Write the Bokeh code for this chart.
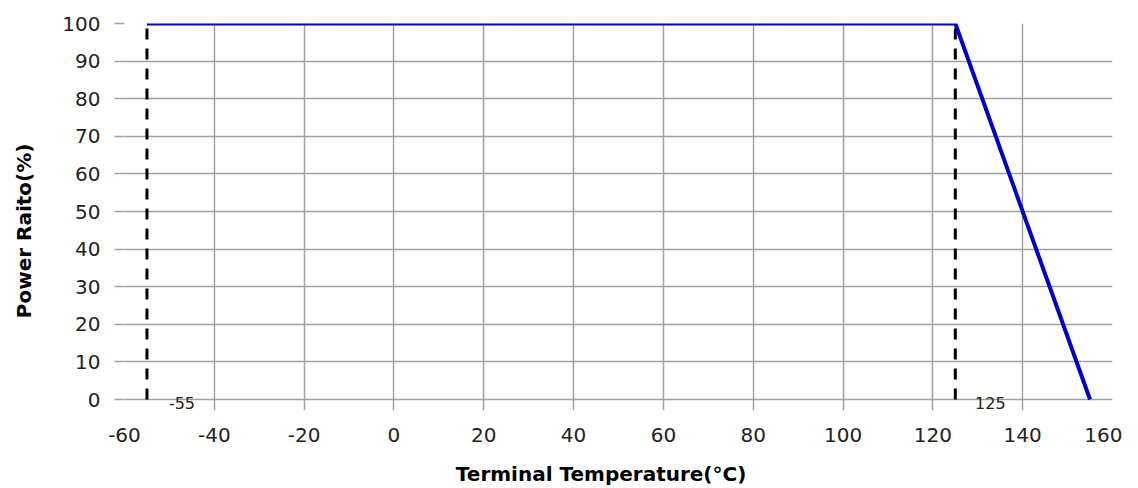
from bokeh.plotting import figure
from bokeh.models import Range1d, FixedTicker, ColumnDataSource, LabelSet
from bokeh.core.properties import value
from bokeh.embed import file_html
from bokeh.resources import INLINE

# Data
temperature = [-55, 125, 155]
power_ratio = [100, 100, 0]
marker_temps = [-55, 125]
marker_labels = ["-55", "125"]
x_ticks = list(range(-60, 161, 20))
y_ticks = list(range(0, 101, 10))

FONT = "DejaVu Sans"
GRID = "#a0a0a0"
NB = "\u00a0"

# frame extends slightly below 0 so the marker labels straddling the axis are not clipped
p = figure(width=1122, height=488, output_backend="svg", toolbar_location=None,
           x_range=Range1d(-60, 160), y_range=Range1d(-2.92, 100),
           min_border_left=124, min_border_right=10, min_border_top=23,
           min_border_bottom=77)

p.background_fill_color = "white"
p.border_fill_color = "white"
p.outline_line_color = None

for ax in (p.xaxis[0], p.yaxis[0]):
    ax.axis_line_color = None
    ax.major_tick_line_color = GRID
    ax.major_tick_line_width = 1.5
    ax.minor_tick_line_color = None
    ax.major_label_text_font = FONT
    ax.major_label_text_font_size = "20px"
    ax.major_label_text_color = "#222222"
    ax.axis_label_text_font = FONT
    ax.axis_label_text_font_size = "20px"
    ax.axis_label_text_font_style = "bold"
    ax.axis_label_text_color = "black"

p.yaxis.major_tick_in = 0
p.yaxis.major_tick_out = 10
p.xaxis.major_tick_in = 0
p.xaxis.major_tick_out = 0

p.xaxis.ticker = FixedTicker(ticks=x_ticks)
p.yaxis.ticker = FixedTicker(ticks=y_ticks)
p.xaxis.major_label_overrides = {t: str(t) for t in x_ticks}
p.yaxis.major_label_overrides = {t: str(t) for t in y_ticks}
p.xaxis.axis_label = "Terminal Temperature(°C)" + NB * 5
p.yaxis.axis_label = "Power Raito(%)" + NB * 4
p.xaxis.major_label_standoff = 17
p.yaxis.major_label_standoff = 14
p.xaxis.axis_label_standoff = 17
p.yaxis.axis_label_standoff = 23

p.xgrid.ticker = FixedTicker(ticks=x_ticks)
p.ygrid.ticker = FixedTicker(ticks=y_ticks)
p.grid.grid_line_color = GRID
p.grid.grid_line_width = 1.5

# Dashed marker lines
ms = ColumnDataSource(dict(x=marker_temps,
                           y0=[min(power_ratio)] * len(marker_temps),
                           y1=[max(power_ratio)] * len(marker_temps),
                           label=marker_labels))
p.segment(x0="x", y0="y0", x1="x", y1="y1", source=ms,
          line_color="black", line_width=3, line_dash="11 9")

# Derating curve
p.line(temperature, power_ratio, line_color="#0000cc", line_width=4)

# Labels
labels = LabelSet(x="x", y="y0", text="label", source=ms, x_offset=35, y_offset=-3,
                  text_font=value(FONT), text_font_size=value("16px"),
                  text_color=value("#222222"),
                  text_align="center", text_baseline="middle")
p.add_layout(labels)

open("out.html", "w").write(file_html(p, INLINE))
